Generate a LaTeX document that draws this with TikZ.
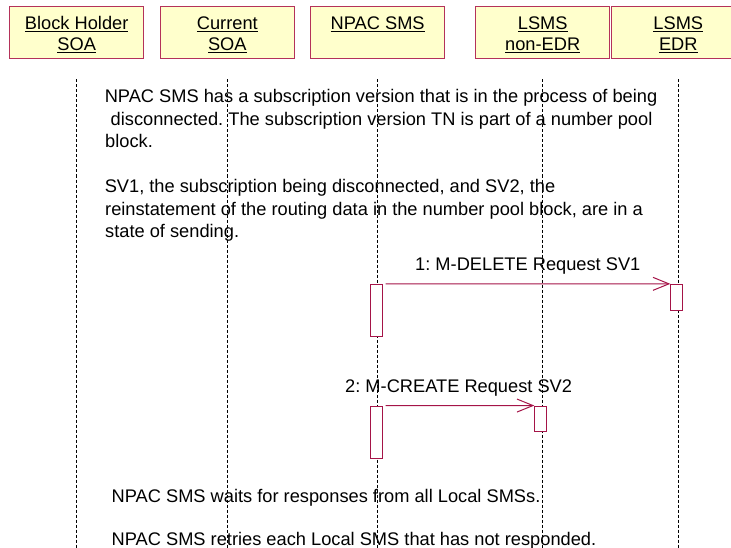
\documentclass[tikz,border=0pt]{standalone}
\usepackage{fontspec}
\setmainfont{Liberation Sans}
\usetikzlibrary{arrows.meta}
\definecolor{crim}{RGB}{165,20,72}
\definecolor{boxfill}{RGB}{255,255,204}
\definecolor{boxedge}{RGB}{180,50,90}
\frenchspacing
\begin{document}
\begin{tikzpicture}[x=1bp,y=-1bp,
  font=\fontsize{18.25bp}{22.5bp}\selectfont,
  obj/.style={draw=boxedge, fill=boxfill, line width=1bp, minimum width=134bp, minimum height=52bp, inner sep=0},
  lbl/.style={anchor=base, inner sep=0},
  life/.style={draw=black, line width=0.6bp, dash pattern=on 3bp off 2bp},
  act/.style={draw=crim, fill=white, line width=1bp, minimum width=12bp, inner sep=0},
  msg/.style={draw=crim, line width=1bp, -{Straight Barb[length=16bp,width=13bp]}},
  txt/.style={anchor=base west, inner sep=0}]
\useasboundingbox (0,0) rectangle (731,548);
% objects
\node[obj] (b1) at (76.7,33) {};
\node[obj] (b2) at (227.3,33) {};
\node[obj] (b3) at (377.7,33) {};
\node[obj] (b4) at (542.7,33) {};
\node[obj] (b5) at (678.3,33) {};
\node[lbl] (l1a) at (76.7,29.2) {\underline{Block Holder}};
\node[lbl] (l1b) at (76.7,50.8) {\underline{SOA}};
\node[lbl] (l2a) at (227.3,29.2) {\underline{Current}};
\node[lbl] (l2b) at (227.3,50.8) {\underline{SOA}};
\node[lbl] (l3a) at (377.7,29.2) {\underline{NPAC SMS}};
\node[lbl] (l4a) at (542.7,29.2) {\underline{LSMS}};
\node[lbl] (l4b) at (542.7,50.8) {\underline{non-EDR}};
\node[lbl] (l5a) at (678.3,29.2) {\underline{LSMS}};
\node[lbl] (l5b) at (678.3,50.8) {\underline{EDR}};
% lifeline ends
\coordinate (e1) at (76.7,548);
\coordinate (e2) at (227.3,548);
\coordinate (e3) at (377.7,548);
\coordinate (e4) at (542.7,548);
\coordinate (e5) at (678.3,548);
\draw[life] ([yshift=-20bp]b1.south) -- (e1);
\draw[life] ([yshift=-20bp]b2.south) -- (e2);
\draw[life] ([yshift=-20bp]b3.south) -- (e3);
\draw[life] ([yshift=-20bp]b4.south) -- (e4);
\draw[life] ([yshift=-20bp]b5.south) -- (e5);
% notes
\node[txt] (n1) at (104.6,102.7) {NPAC SMS has a subscription version that is in the process of being};
\node[txt] (n2) at (110.5,125.2) {disconnected. The subscription version TN is part of a number pool};
\node[txt] (n3) at (105,147.7) {block.};
\node[txt] (n4) at (104.6,192.7) {SV1, the subscription being disconnected, and SV2, the};
\node[txt] (n5) at (105,215.2) {reinstatement of the routing data in the number pool block, are in a};
\node[txt] (n6) at (105,237.7) {state of sending.};
% activations
\node[act, minimum height=51.7bp] (a1) at (376.7,310.2) {};
\node[act, minimum height=25.7bp] (a2) at (676.8,297.2) {};
\node[act, minimum height=25.3bp] (a3) at (540.8,418.7) {};
\node[act, minimum height=52.3bp] (a4) at (376.7,432.2) {};
% messages
\draw[msg] ([xshift=2.3bp]a1.north east) -- (a2.north west);
\draw[msg] ([xshift=2.3bp]a4.north east) -- (a3.north west);
\node[txt] (m1) at (415,270.7) {1: M-DELETE Request SV1};
\node[txt] (m2) at (345,392.7) {2: M-CREATE Request SV2};
% bottom notes
\node[txt] (n7) at (111.5,502.3) {NPAC SMS waits for responses from all Local SMSs.};
\node[txt] (n8) at (111.5,545.5) {NPAC SMS retries each Local SMS that has not responded.};
\end{tikzpicture}
\end{document}
